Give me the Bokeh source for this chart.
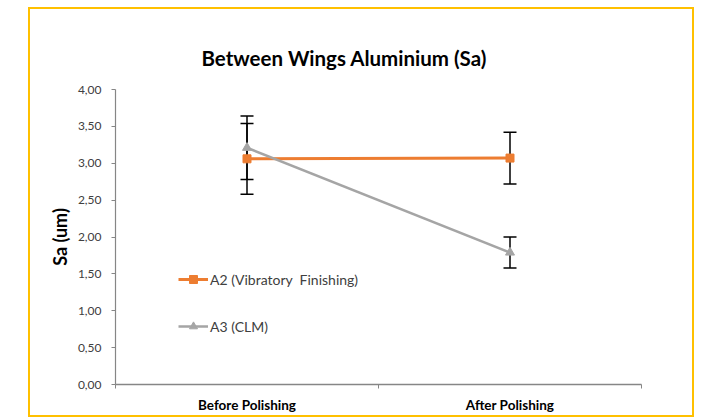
from bokeh.plotting import figure
from bokeh.models import (ColumnDataSource, FixedTicker, Whisker, TeeHead, Legend, LegendItem, Range1d)
from bokeh.embed import file_html
from bokeh.resources import INLINE

# ---- data ----
categories = ["Before Polishing", "After Polishing"]
a2_label = "A2 (Vibratory  Finishing)"
a3_label = "A3 (CLM)"
a2_values = [3.06, 3.07]
a2_errors = [0.48, 0.35]
a3_values = [3.21, 1.79]
a3_errors = [0.43, 0.21]
y_ticks = [0.0, 0.5, 1.0, 1.5, 2.0, 2.5, 3.0, 3.5, 4.0]
title_text = "Between Wings Aluminium (Sa)"
y_label = "Sa (um)"

FONT = "Lato"
ORANGE = "#ED7D31"
GRAY = "#A5A5A5"
AXIS = "#868686"

xs = [i + 0.5 for i in range(len(categories))]

p = figure(width=666, height=410, output_backend="svg", toolbar_location=None,
           x_range=Range1d(0, len(categories)), y_range=Range1d(0, 4),
           min_border_left=85, min_border_right=55, min_border_top=80, min_border_bottom=35)
p.styles = {"border": "2px solid #FFC000", "margin-left": "28px", "margin-top": "7px"}
p.outline_line_color = None
p.xgrid.visible = False
p.ygrid.visible = False
p.background_fill_color = "white"
p.border_fill_color = "white"

p.title.text = title_text
p.title.text_font = FONT
p.title.text_font_size = "20.5px"
p.title.text_font_style = "bold"
p.title.text_color = "black"
p.title.align = "left"
p.title.offset = 86
p.title.standoff = 40

# axes
xa = p.xaxis[0]
xa.ticker = FixedTicker(ticks=xs, minor_ticks=[float(i) for i in range(len(categories) + 1)])
xa.major_label_overrides = {x: c for x, c in zip(xs, categories)}
xa.major_tick_out = 0
xa.major_tick_in = 0
xa.minor_tick_out = 4
xa.minor_tick_in = 0
xa.minor_tick_line_color = AXIS
xa.axis_line_color = AXIS
xa.axis_line_width = 1.5
xa.major_label_text_font = FONT
xa.major_label_text_font_style = "bold"
xa.major_label_text_font_size = "13.5px"
xa.major_label_text_color = "black"
xa.major_label_standoff = 8

ya = p.yaxis[0]
ya.ticker = FixedTicker(ticks=y_ticks)
ya.major_label_overrides = {t: f"{t:.2f}".replace(".", ",") for t in y_ticks}
ya.major_tick_out = 4
ya.major_tick_in = 0
ya.minor_tick_line_color = None
ya.major_tick_line_color = AXIS
ya.axis_line_color = AXIS
ya.axis_line_width = 1.2
ya.major_label_text_font = FONT
ya.major_label_text_font_size = "12px"
ya.major_label_text_color = "#404040"
ya.major_label_standoff = 10
ya.axis_label = y_label
ya.axis_label_text_font = FONT
ya.axis_label_text_font_size = "18px"
ya.axis_label_text_font_style = "bold"
ya.axis_label_text_color = "black"
ya.axis_label_standoff = 4

# sources
src2 = ColumnDataSource(dict(x=xs, y=a2_values,
                             upper=[v + e for v, e in zip(a2_values, a2_errors)],
                             lower=[v - e for v, e in zip(a2_values, a2_errors)]))
src3 = ColumnDataSource(dict(x=xs, y=a3_values,
                             upper=[v + e for v, e in zip(a3_values, a3_errors)],
                             lower=[v - e for v, e in zip(a3_values, a3_errors)]))

l2 = p.line("x", "y", source=src2, line_color=ORANGE, line_width=3)
m2 = p.scatter("x", "y", source=src2, marker="square", size=8, fill_color=ORANGE, line_color=ORANGE)
l3 = p.line("x", "y", source=src3, line_color=GRAY, line_width=2.5)
m3 = p.scatter("x", "y", source=src3, marker="triangle", size=9, fill_color=GRAY, line_color=GRAY)

for src in (src2, src3):
    w = Whisker(source=src, base="x", upper="upper", lower="lower",
                line_color="black", line_width=1.5,
                upper_head=TeeHead(size=13, line_color="black", line_width=1.5),
                lower_head=TeeHead(size=13, line_color="black", line_width=1.5))
    p.add_layout(w)

legend = Legend(items=[LegendItem(label=a2_label, renderers=[l2, m2]),
                       LegendItem(label=a3_label, renderers=[l3, m3])],
                location=(63, 48), orientation="vertical",
                padding=0, margin=0, spacing=27,
                glyph_width=30, glyph_height=20, label_standoff=2,
                border_line_color=None, background_fill_alpha=0,
                label_text_font=FONT, label_text_font_size="14px", label_text_color="#404040")
p.add_layout(legend, "center")

open("out.html", "w").write(file_html(p, INLINE))
